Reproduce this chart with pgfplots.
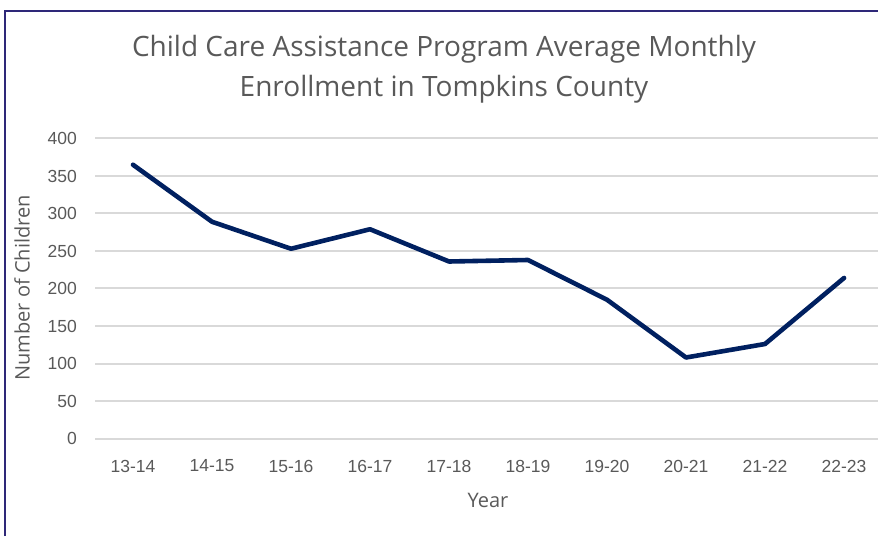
\documentclass[border=0pt]{standalone}
\usepackage{pgfplots}
\pgfplotsset{compat=1.18}
\usepackage{fontspec}
\setmainfont{Open Sans}
\newfontfamily\tickfont{Liberation Sans}
\definecolor{framec}{RGB}{46,40,120}
\definecolor{linec}{RGB}{0,32,96}
\definecolor{gridc}{RGB}{217,217,217}
\definecolor{textc}{RGB}{89,89,89}
\begin{document}
\begin{tikzpicture}[x=1pt,y=1pt]
\useasboundingbox (0,0) rectangle (878,536);
\begin{axis}[
  at={(95pt,97.5pt)}, anchor=south west,
  width=783pt, height=300pt, scale only axis,
  xmin=-0.481, xmax=9.43, ymin=0, ymax=400,
  axis line style={draw=none},
  clip=false,
  /pgf/number format/assume math mode=true,
  xtick={0,...,9},
  xticklabels={13-14,14-15,15-16,16-17,17-18,18-19,19-20,20-21,21-22,22-23},
  ytick={0,50,...,400},
  ymajorgrids, major grid style={gridc, line width=2pt},
  tick style={draw=none},
  xticklabel style={anchor=center, yshift=-27.5pt, inner sep=0pt, font=\tickfont\fontsize{17.5}{20}\selectfont, text=textc},
  yticklabel style={anchor=east, xshift=-18pt, inner sep=0pt, font=\tickfont\fontsize{17.5}{20}\selectfont, text=textc},
]
\addplot[linec, line width=4.6pt, line join=round, line cap=round] coordinates {
(0,365) (1,289) (2,253) (3,279) (4,236) (5,238) (6,185) (7,108) (8,126) (9,214)};
\end{axis}
\node[text=textc, font=\fontsize{28}{40}\selectfont, align=center] at (444,467) {Child Care Assistance Program Average Monthly\\Enrollment in Tompkins County};
\node[text=textc, font=\fontsize{20}{22}\selectfont] at (488,36) {Year};
\node[text=textc, font=\fontsize{20}{22}\selectfont, rotate=90] at (22,248) {Number of Children};
\draw[framec, line width=2.2pt] (5,0) -- (5,525) -- (878,525);
\end{tikzpicture}
\end{document}
